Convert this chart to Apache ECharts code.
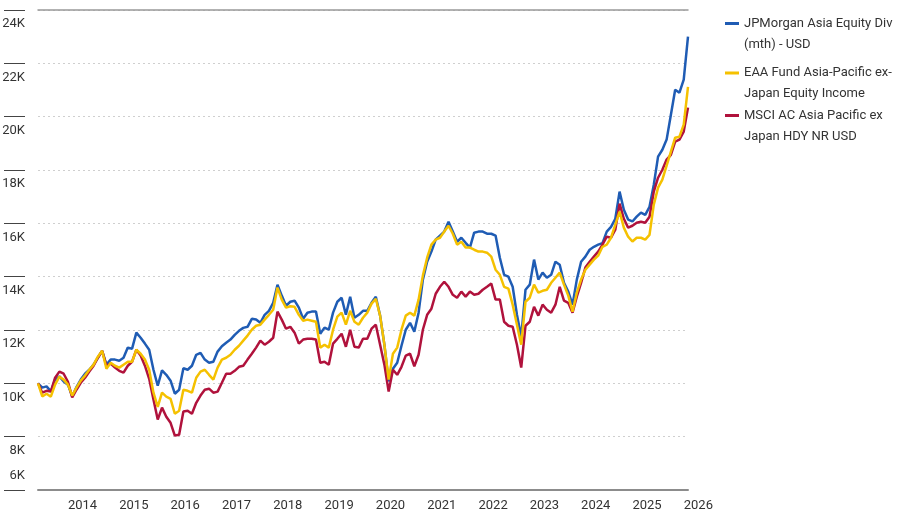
<!DOCTYPE html>
<html>
<head>
<meta charset="utf-8">
<script src="https://cdn.jsdelivr.net/npm/echarts@6/dist/echarts.min.js"></script>
<style>
    html, body { margin: 0; padding: 0; background: #fff; }
    #chart { width: 910px; height: 530px; }
</style>
</head>
<body>
<div id="chart"></div>
<script>
// growth of 10K, month starts from 2013-06 to 2026-02
var months = [];
for (var y = 2013, m = 6; y < 2026 || m <= 2; m++) {
    if (m > 12) { m = 1; y++; }
    months.push(y + '-' + (m < 10 ? '0' + m : m));
}

var seriesNames = [
    'JPMorgan Asia Equity Div\n(mth) - USD',
    'EAA Fund Asia-Pacific ex-\nJapan Equity Income',
    'MSCI AC Asia Pacific ex\nJapan HDY NR USD'
];
var colors = ['#1f5cb4', '#f5c100', '#b0123c'];

var jpmData = [
    10000, 9840, 9885, 9700, 10140, 10260, 10070, 9950, 9510, 9860, 10140, 10360,
    10510, 10700, 10960, 11220, 10700, 10890, 10890, 10850, 10960, 11340, 11300, 11900,
    11710, 11490, 11260, 10510, 9910, 10485, 10320, 10100, 9610, 9760, 10570, 10510,
    10660, 11070, 11140, 10890, 10770, 10810, 11190, 11390, 11520, 11640, 11820, 11970,
    12080, 12120, 12420, 12390, 12270, 12570, 12720, 13020, 13700, 13290, 12910, 13060,
    13100, 12840, 12420, 12650, 12690, 12690, 11860, 12090, 12010, 12650, 13060, 13210,
    12570, 13250, 12460, 12570, 12720, 12720, 13020, 13250, 12540, 11450, 10070, 10550,
    10770, 11410, 12010, 12270, 11940, 12650, 13890, 14560, 14940, 15390, 15540, 15690,
    16060, 15690, 15310, 15460, 15270, 15090, 15650, 15690, 15690, 15610, 15610, 15540,
    14710, 14070, 14000, 13620, 12570, 11750, 13510, 13700, 14640, 13890, 14150, 13960,
    14070, 14560, 14450, 13770, 13440, 12950, 13890, 14560, 14750, 15010, 15120, 15200,
    15260, 15690, 15870, 16170, 17190, 16510, 16140, 16070, 16250, 16400, 16320, 16620,
    17450, 18500, 18760, 19140, 20070, 21010, 20900, 21390, 23000
];
var eaaData = [
    10000, 9510, 9610, 9500, 9950, 10250, 10140, 9950, 9540, 9840, 10100, 10290,
    10510, 10700, 11000, 11220, 10550, 10770, 10660, 10590, 10700, 10810, 10810, 11260,
    11110, 10890, 10510, 9650, 9120, 9650, 9500, 9420, 8860, 8970, 9760, 9720,
    9650, 10210, 10440, 10510, 10320, 10140, 10590, 10890, 10960, 11070, 11260, 11410,
    11600, 11790, 12010, 12160, 12200, 12390, 12570, 12760, 13590, 13140, 12840, 12890,
    12870, 12570, 12350, 12390, 12350, 12310, 11340, 11450, 11340, 12010, 12500, 12650,
    12200, 12720, 12310, 12200, 12460, 12650, 12990, 13170, 12540, 11450, 10140, 11110,
    11340, 12010, 12540, 12650, 12540, 13140, 14040, 14710, 15200, 15390, 15460, 15690,
    15910, 15610, 15200, 15310, 15090, 15090, 15010, 14940, 14940, 14900, 14750, 14260,
    14070, 13620, 13550, 12950, 12200, 11450, 13060, 13210, 13700, 13400, 13470, 13510,
    13770, 13960, 14150, 13700, 13290, 12690, 13400, 13890, 14260, 14450, 14640, 14790,
    15120, 15200, 15460, 15950, 16440, 15840, 15500, 15320, 15460, 15460, 15390, 15570,
    16700, 17340, 17640, 18160, 18690, 19210, 19250, 19700, 21120
];
var msciData = [
    10000, 9650, 9720, 9690, 10210, 10440, 10360, 10060, 9470, 9760, 10020, 10210,
    10440, 10660, 10960, 11220, 10660, 10740, 10590, 10470, 10400, 10660, 10810, 11260,
    11040, 10660, 10170, 9390, 8640, 9090, 8750, 8520, 8040, 8070, 8940, 8970,
    8860, 9270, 9540, 9760, 9800, 9650, 9690, 10020, 10360, 10360, 10470, 10620,
    10660, 10890, 11110, 11340, 11600, 11450, 11560, 11710, 12690, 12390, 12050, 12120,
    11900, 11490, 11640, 11670, 11670, 11640, 10770, 10810, 10700, 11490, 11670, 11860,
    11370, 12010, 11370, 11340, 11670, 11670, 12050, 12200, 11450, 10700, 9690, 10510,
    10320, 10620, 11040, 11110, 10640, 11070, 12010, 12570, 12800, 13360, 13620, 13810,
    13620, 13320, 13210, 13440, 13250, 13440, 13320, 13360, 13510, 13620, 13740, 13140,
    13140, 12310, 12160, 12120, 11450, 10590, 12160, 12310, 12870, 12540, 12950, 12760,
    12650, 12950, 13620, 13100, 13020, 12650, 13250, 13770, 14340, 14560, 14750, 14940,
    15200, 15500, 15460, 15760, 16740, 16170, 15840, 15910, 16020, 16060, 16020, 16250,
    17190, 17710, 18010, 18390, 18570, 19060, 19140, 19440, 20340
];

var yTicksMin = 6000;
var yTicksMax = 24000;
var yTickStep = 2000;

var fontFamily = "'Liberation Sans Narrow', 'Arial Narrow', Roboto, sans-serif";

var chart = echarts.init(document.getElementById('chart'));

function legendFor(idx, top) {
    return {
        data: [seriesNames[idx]],
        orient: 'vertical',
        left: 725,
        top: top,
        padding: 0,
        itemWidth: 14,
        itemHeight: 3,
        icon: 'rect',
        selectedMode: false,
        textStyle: {
            fontFamily: fontFamily,
            fontSize: 13,
            color: '#333',
            lineHeight: 21
        },
        formatter: function (name) {
            // blank first line keeps the icon beside the first text line
            return '\n' + name;
        }
    };
}

var option = {
    animation: false,
    color: colors,
    textStyle: { fontFamily: fontFamily },
    legend: [
        legendFor(0, -8),
        legendFor(1, 41.5),
        legendFor(2, 84)
    ],
    grid: {
        left: 38,
        right: 222,
        top: 10,
        bottom: 40,
        outerBoundsMode: 'none'
    },
    xAxis: [
        {
            type: 'category',
            data: months,
            boundaryGap: false,
            axisLine: { lineStyle: { color: '#8c8c8c', width: 2 } },
            axisTick: { show: false },
            axisLabel: {
                interval: function (index, value) {
                    return value.slice(5) === '01';
                },
                formatter: function (value) {
                    return value.slice(0, 4);
                },
                align: 'left',
                margin: 9,
                fontSize: 13,
                color: '#333'
            },
            splitLine: { show: false }
        },
        {
            type: 'category',
            data: months,
            boundaryGap: false,
            position: 'top',
            axisLine: { lineStyle: { color: '#999', width: 1.5 } },
            axisTick: { show: false },
            axisLabel: { show: false }
        }
    ],
    yAxis: {
        type: 'value',
        min: yTicksMin,
        max: yTicksMax,
        interval: yTickStep,
        offset: 13,
        axisLine: { show: false },
        axisTick: {
            show: true,
            length: 21,
            lineStyle: { color: '#444', width: 1 }
        },
        axisLabel: {
            margin: 0,
            fontSize: 13,
            color: '#333',
            lineHeight: 14,
            verticalAlign: 'middle',
            showMinLabel: true,
            showMaxLabel: true,
            hideOverlap: false,
            formatter: function (v) {
                // labels sit under their tick, the lowest one above it
                var txt = (v / 1000) + 'K';
                return v === yTicksMin ? txt + '\n\n' : '\n\n' + txt;
            }
        },
        splitLine: {
            lineStyle: { color: '#cfcfcf', width: 1, type: [2, 3] }
        }
    },
    series: [
        {
            name: seriesNames[0],
            type: 'line',
            data: jpmData,
            showSymbol: false,
            z: 2,
            lineStyle: { width: 2.5, color: colors[0] },
            itemStyle: { color: colors[0] }
        },
        {
            name: seriesNames[2],
            type: 'line',
            data: msciData,
            showSymbol: false,
            z: 3,
            lineStyle: { width: 2.5, color: colors[2] },
            itemStyle: { color: colors[2] }
        },
        {
            name: seriesNames[1],
            type: 'line',
            data: eaaData,
            showSymbol: false,
            z: 4,
            lineStyle: { width: 2.5, color: colors[1] },
            itemStyle: { color: colors[1] }
        }
    ]
};
chart.setOption(option);
</script>
</body>
</html>
